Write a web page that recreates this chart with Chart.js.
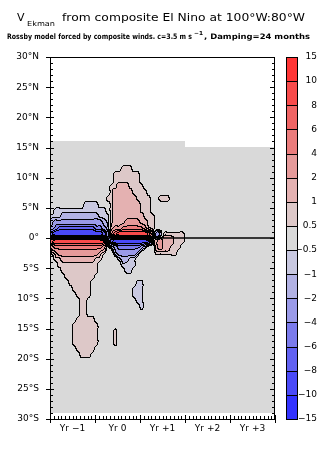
<!DOCTYPE html>
<html><head><meta charset="utf-8">
<script src="https://cdn.jsdelivr.net/npm/chart.js@4/dist/chart.umd.min.js"></script>
<style>html,body{margin:0;padding:0;background:#fff;}canvas{display:block;}</style>
</head><body>
<canvas id="c" width="317" height="476"></canvas>
<script>
// ================= DATA =================
// contour / colour-bar levels of V_Ekman
const contourLevels = [-15, -10, -8, -6, -4, -2, -1, -0.5, 0.5, 1, 2, 4, 6, 8, 10, 15];
// representative value of each shading class
const classValues = {A:-12.5, B:-9, C:-7, D:-5, E:-3, F:-1.5, G:-0.8, '.':0, g:0.8, f:1.5, e:3, d:5, c:7, b:9, a:12.5, _:NaN};
// time axis: months from start of Yr -1 (60 months)
const monthCount = 60;
const yearLabels = ['Yr \u22121', 'Yr 0', 'Yr +1', 'Yr +2', 'Yr +3'];
const yearLabelMonths = [6, 18, 30, 42, 54];
const yearTickMonths = [0, 12, 24, 36, 48, 60];
// latitude axis
const latTickValues = [30, 25, 20, 15, 10, 5, 0, -5, -10, -15, -20, -25, -30];
const latLabels = ['30\u00b0N','25\u00b0N','20\u00b0N','15\u00b0N','10\u00b0N','5\u00b0N','0\u00b0','5\u00b0S','10\u00b0S','15\u00b0S','20\u00b0S','25\u00b0S','30\u00b0S'];
// grid rows: 1 degree each, first row top edge at 16N; 60 monthly columns (run-length coded classes)
const gridTopLat = 16;
const vEkmanRows = [
  "36. 24_",                                   // 16..15N
  "60.", "60.", "60.",                         // 15..12N
  "19. 3g 38.",                                // 12..11N
  "17. 7g 36.",
  "17. 7g 36.",
  "16. 2g 3f 4g 35.",
  "16. 1g 5f 4g 34.",
  "15. 2g 6f 4g 2. 3g 28.",
  "9. 4G 3. 1g 7f 3g 33.",
  "1. 14G 1. 1g 7f 3g 33.",
  "3G 10F 3G 1g 8f 3g 32.",
  "1F 13E 1F 1G 1g 3f 4e 2f 2g 32.",
  "1E 1D 10C 2D 1E 1F 1f 2e 6d 1e 1f 1g 32.",
  "1C 13B 1C 1E 1e 1c 8b 1c 1f 1E 1F 6g 24.",  // 1N..0
  "1c 13b 1c 1. 1C 9B 1C 1. 1f 1e 3f 3g 24.",  // 0..1S
  "1e 13d 1e 1. 1F 1E 6D 1E 1F 2. 1f 1e 2f 3g 25.",
  "1g 1f 11e 1f 1g 2. 1F 5E 1F 4. 6g 26.",
  "1. 2g 9f 2g 4. 1G 2F 2G 37.",
  "2. 11g 6. 4G 37.",
  "3. 10g 7. 2G 38.",
  "4. 8g 48.",
  "5. 6g 12. 2G 35.",
  "6. 5g 11. 3G 35.",
  "7. 4g 11. 3G 35.",
  "8. 2g 13. 2G 35.",
  "8. 2g 14. 1G 35.",
  "8. 2g 50.",
  "7. 5g 48.",
  "6. 7g 47.",
  "6. 7g 4. 1g 42.",
  "6. 7g 4. 1g 42.",
  "6. 7g 4. 1g 42.",
  "7. 5g 48.",
  "8. 3g 49.",
  "60.", "60.", "60.", "60.", "60.", "60.", "60.", "60.", "60."   // 20S..29S
];

// ================= STYLE =================
const levelColors = ['#3333ff','#4a4af8','#6262f2','#7b7bec','#9a9ae8','#b2b2e4','#c8c8e0','#d9d9d9',
                     '#ddc8c8','#e4b1b1','#e69a9a','#eb7c7c','#f06464','#f84b4b','#ff3535'];
const FONT = 'DejaVu Sans';

// decode grid
const grid = vEkmanRows.map(r => {
  const out = [];
  r.trim().split(/\s+/).forEach(tok => {
    const n = parseInt(tok, 10); const c = tok.replace(/^\d+/, '');
    for (let k = 0; k < n; k++) out.push(classValues[c]);
  });
  return out;
});

function hexToRgb(h){ return [parseInt(h.slice(1,3),16), parseInt(h.slice(3,5),16), parseInt(h.slice(5,7),16)]; }
const rgbLevels = levelColors.map(hexToRgb);
function levelIndex(v){ let k = 0; while (k < 14 && v >= contourLevels[k+1]) k++; return k; }
function fmtLevel(v){ return (v < 0 ? '\u2212' : '') + Math.abs(v); }
function cr(p0, p1, p2, p3, t){ return p1 + 0.5*t*(p2 - p0 + t*(2*p0 - 5*p1 + 4*p2 - p3 + t*(3*(p1 - p2) + p3 - p0))); }

const heatmapPlugin = {
  id: 'heatmap',
  beforeDraw(chart) {
    const ctx = chart.ctx, xs = chart.scales.x, ys = chart.scales.y, ca = chart.chartArea;
    ctx.save(); ctx.fillStyle = '#fff'; ctx.fillRect(0, 0, chart.width, chart.height); ctx.restore();
    const L = Math.round(ca.left), T = Math.round(ca.top);
    const W = Math.round(ca.right) - L, H = Math.round(ca.bottom) - T;
    const nR = grid.length, nC = grid[0].length;
    const get = (i, j) => { i = Math.max(0, Math.min(nR-1, i)); j = Math.max(0, Math.min(nC-1, j)); const v = grid[i][j]; return isNaN(v) ? 0 : v; };
    const lev = new Int16Array(W*H).fill(-1);
    const tmp = [0,0,0,0];
    for (let py = 0; py < H; py++) {
      const lat = ys.getValueForPixel(T + py + 0.5);
      const fr = gridTopLat - lat;
      const r = Math.floor(fr);
      if (r < 0 || r >= nR) continue;
      for (let px = 0; px < W; px++) {
        const xv = xs.getValueForPixel(L + px + 0.5);
        const c = Math.floor(xv);
        if (c < 0 || c >= nC || isNaN(grid[r][c])) continue;
        const fx = xv - 0.5, fy = fr - 0.5;
        const j0 = Math.floor(fx), i0 = Math.floor(fy), tx = fx - j0, ty = fy - i0;
        for (let a = 0; a < 4; a++) {
          const ii = i0 - 1 + a;
          tmp[a] = cr(get(ii, j0-1), get(ii, j0), get(ii, j0+1), get(ii, j0+2), tx);
        }
        let v = cr(tmp[0], tmp[1], tmp[2], tmp[3], ty);
        const q = [get(i0,j0), get(i0,j0+1), get(i0+1,j0), get(i0+1,j0+1)];
        v = Math.max(Math.min(...q), Math.min(Math.max(...q), v));
        lev[py*W+px] = levelIndex(v);
      }
    }
    const off = document.createElement('canvas'); off.width = W; off.height = H;
    const octx = off.getContext('2d'); const img = octx.createImageData(W, H); const d = img.data;
    for (let py = 0; py < H; py++) for (let px = 0; px < W; px++) {
      const k = lev[py*W+px]; if (k < 0) continue;
      let col = rgbLevels[k];
      const rk = px+1 < W ? lev[py*W+px+1] : -1, bk = py+1 < H ? lev[(py+1)*W+px] : -1;
      if ((rk >= 0 && rk !== k) || (bk >= 0 && bk !== k)) col = [0,0,0];
      const o = (py*W+px)*4; d[o] = col[0]; d[o+1] = col[1]; d[o+2] = col[2]; d[o+3] = 255;
    }
    octx.putImageData(img, 0, 0);
    chart.ctx.drawImage(off, L, T);
  }
};

function stretchText(ctx, text, x, y, w, font) {
  ctx.save(); ctx.font = font; const mw = ctx.measureText(text).width;
  ctx.translate(x, y); ctx.scale(w / mw, 1); ctx.fillText(text, 0, 0); ctx.restore();
}

const decorPlugin = {
  id: 'decor',
  afterDraw(chart) {
    const ctx = chart.ctx, xs = chart.scales.x, ys = chart.scales.y, yc = chart.scales.yc, ca = chart.chartArea;
    ctx.save();
    ctx.strokeStyle = '#000'; ctx.lineWidth = 1;
    ctx.strokeRect(Math.round(ca.left)+0.5, Math.round(ca.top)+0.5, Math.round(ca.right-ca.left)-1, Math.round(ca.bottom-ca.top));
    ctx.beginPath();
    for (let lat = -30; lat <= 30; lat++) {
      const y = Math.round(ys.getPixelForValue(lat)) + 0.5;
      const major = lat % 5 === 0;
      ctx.moveTo(ca.left - (major ? 4 : 0), y); ctx.lineTo(ca.left + (major ? 4 : 3), y);
      ctx.moveTo(ca.right, y); ctx.lineTo(ca.right - (major ? 5 : 3), y);
    }
    for (let m = 0; m <= monthCount; m++) {
      const x = Math.round(xs.getPixelForValue(m)) + 0.5;
      const major = yearTickMonths.includes(m);
      ctx.moveTo(x, ca.bottom + (major ? 4 : 0)); ctx.lineTo(x, ca.bottom - (major ? 4 : 3));
    }
    ctx.stroke();
    const bx = Math.round(ca.right) + 11, bw = 11;
    for (let k = 0; k < levelColors.length; k++) {
      const y1 = Math.round(yc.getPixelForValue(k+1)), y2 = Math.round(yc.getPixelForValue(k));
      ctx.fillStyle = levelColors[k]; ctx.fillRect(bx, y1, bw, y2 - y1);
      ctx.strokeRect(bx + 0.5, y1 + 0.5, bw, y2 - y1);
    }
    ctx.fillStyle = '#000'; ctx.textBaseline = 'alphabetic';
    stretchText(ctx, 'V', 17, 21, 7.5, `11px "${FONT}"`);
    stretchText(ctx, 'Ekman', 27, 25.5, 28, `7px "${FONT}"`);
    stretchText(ctx, 'from composite El Nino at 100\u00b0W:80\u00b0W', 62, 21, 243, `11px "${FONT}"`);
    stretchText(ctx, 'Rossby model forced by composite winds. c=3.5 m s', 7, 38.5, 185, `bold 7.5px "${FONT}"`);
    stretchText(ctx, '\u22121', 194, 35, 9, `bold 5.5px "${FONT}"`);
    stretchText(ctx, ', Damping=24 months', 204, 38.5, 106, `bold 7.5px "${FONT}"`);
    ctx.restore();
  }
};

const tickFont = {family: FONT, size: 9};
new Chart(document.getElementById('c'), {
  type: 'scatter',
  data: { datasets: [{
    label: 'equator',
    data: [{x: 0, y: 0}, {x: monthCount, y: 0}],
    showLine: true, borderColor: '#000', borderWidth: 1.5, pointRadius: 0, xAxisID: 'x', yAxisID: 'y'
  }]},
  options: {
    responsive: false, animation: false, devicePixelRatio: 1,
    layout: { padding: { top: 57, left: 0, right: 0, bottom: 0 } },
    plugins: { legend: { display: false }, tooltip: { enabled: false } },
    scales: {
      x: { type: 'linear', position: 'bottom', min: 0, max: monthCount,
        afterBuildTicks: s => { s.ticks = yearLabelMonths.map(v => ({value: v})); },
        ticks: { autoSkip: false, maxRotation: 0, padding: 4, color: '#000', font: tickFont,
          callback: v => yearLabels[yearLabelMonths.indexOf(v)] },
        grid: { display: false, drawTicks: false }, border: { display: true, color: '#000', width: 1 },
        afterFit: s => { s.height = 57; } },
      y: { type: 'linear', position: 'left', min: -30, max: 30,
        afterBuildTicks: s => { s.ticks = latTickValues.slice().reverse().map(v => ({value: v})); },
        ticks: { autoSkip: false, padding: 11, color: '#000', font: tickFont,
          callback: v => latLabels[latTickValues.indexOf(v)] },
        grid: { display: false, drawTicks: false }, border: { display: true, color: '#000', width: 1 },
        afterFit: s => { s.width = 50; } },
      yc: { type: 'linear', position: 'right', min: 0, max: contourLevels.length - 1,
        afterBuildTicks: s => { s.ticks = contourLevels.map((v, i) => ({value: i})); },
        ticks: { autoSkip: false, crossAlign: 'far', padding: 0, color: '#000', font: tickFont,
          callback: v => fmtLevel(contourLevels[v]) },
        grid: { display: false, drawTicks: false }, border: { display: false },
        afterFit: s => { s.width = 42; } }
    }
  },
  plugins: [heatmapPlugin, decorPlugin]
});
</script>
</body></html>
